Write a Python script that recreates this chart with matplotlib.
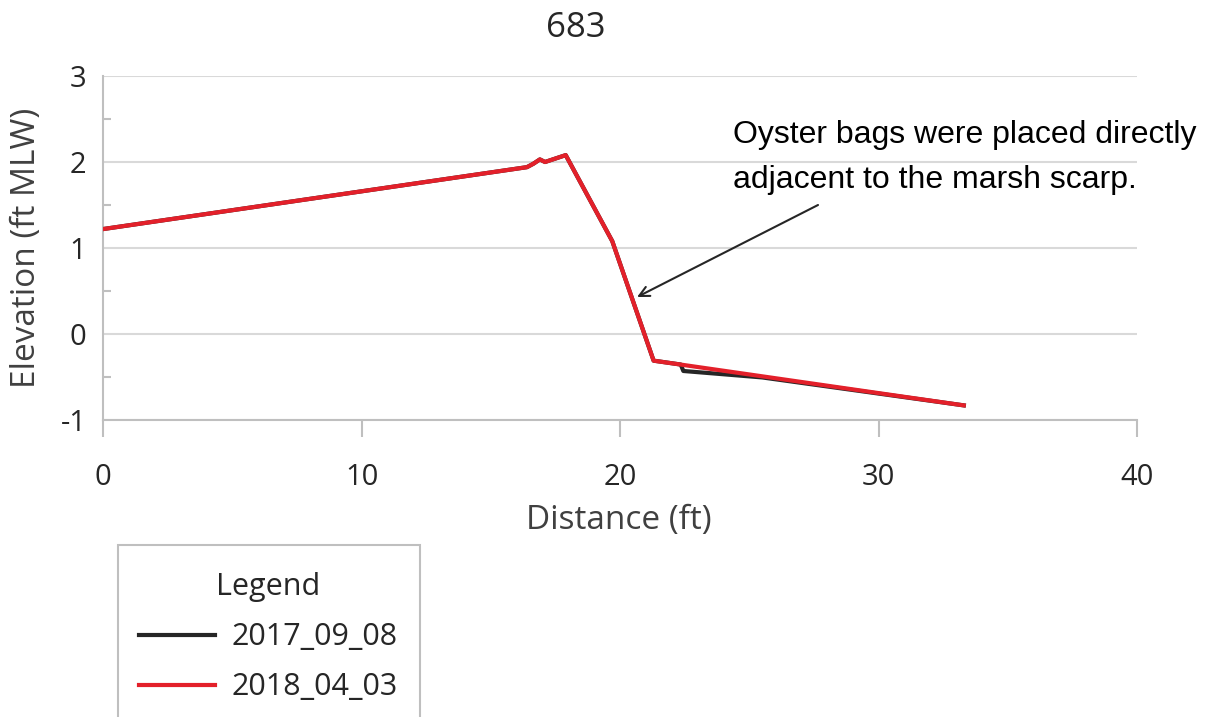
import matplotlib
matplotlib.use("Agg")
import matplotlib.pyplot as plt
from matplotlib.patches import Rectangle
from matplotlib.lines import Line2D

# ---- data ----
title = "683"
dist_2017 = [0, 16.4, 16.65, 16.9, 17.1, 17.9, 19.7, 21.3, 22.35, 22.45, 25.5, 33.3]
elev_2017 = [1.22, 1.94, 1.98, 2.03, 2.00, 2.08, 1.08, -0.31, -0.355, -0.43, -0.505, -0.83]
dist_2018 = [0, 16.4, 16.65, 16.9, 17.1, 17.9, 19.7, 21.3, 33.3]
elev_2018 = [1.22, 1.94, 1.98, 2.03, 2.00, 2.08, 1.08, -0.31, -0.83]
labels = ["2017_09_08", "2018_04_03"]
colors = ["#262626", "#e3202a"]
x_ticks = [0, 10, 20, 30, 40]
y_ticks = [-1, 0, 1, 2, 3]
y_minor = [-0.5, 0.5, 1.5, 2.5]
annot_lines = ["Oyster bags were placed directly", "adjacent to the marsh scarp."]
annot_xy = (20.66, 0.43)
annot_tail = (27.66, 1.50)

FONT = ["Open Sans", "DejaVu Sans"]
W, H = 1212, 717
fig = plt.figure(figsize=(W / 100, H / 100), dpi=100)
ax = fig.add_axes([103 / W, 1 - 420 / H, (1137 - 103) / W, (420 - 76) / H])

ax.plot(dist_2017, elev_2017, color=colors[0], lw=3, zorder=3)
ax.plot(dist_2018, elev_2018, color=colors[1], lw=3, zorder=4)

ax.set_xlim(0, 40)
ax.set_ylim(-1, 3)
ax.set_xticks(x_ticks)
ax.set_yticks(y_ticks)
ax.set_yticks(y_minor, minor=True)
ax.set_xticklabels([str(v) for v in x_ticks], fontfamily=FONT, fontsize=21, color="#262626")
ax.set_yticklabels([str(v) for v in y_ticks], fontfamily=FONT, fontsize=21, color="#262626")

grid_c = "#d9d9d9"
for s in ["top", "right"]:
    ax.spines[s].set_visible(False)
for s in ["left", "bottom"]:
    ax.spines[s].set_color("#bfbfbf")
    ax.spines[s].set_linewidth(1.5)
ax.yaxis.grid(True, which="major", color=grid_c, lw=1.5)
ax.set_axisbelow(True)
ax.tick_params(axis="y", which="major", length=0, pad=12)
ax.tick_params(axis="y", which="minor", direction="in", length=6, color="#bfbfbf", width=1.5)
ax.tick_params(axis="x", which="major", direction="out", length=12, color="#bfbfbf", width=1.5, pad=19)

# axis labels and title, positioned in figure pixels
fig.text(619 / W, 1 - 520 / H, "Distance (ft)", fontfamily=FONT, fontsize=24,
         color="#404040", ha="center", va="center")
fig.text(27 / W, 1 - 248 / H, "Elevation (ft MLW)", fontfamily=FONT, fontsize=24,
         color="#404040", ha="center", va="center", rotation=90)
fig.text(576 / W, 1 - 37 / H, title, fontfamily=FONT, fontsize=25,
         color="#262626", ha="center", va="baseline")

# annotation text + arrow
AFONT = ["Liberation Sans", "DejaVu Sans"]
fig.text(733 / W, 1 - 143 / H, annot_lines[0], fontfamily=AFONT, fontsize=23,
         color="black", ha="left", va="baseline")
fig.text(733 / W, 1 - 188 / H, annot_lines[1], fontfamily=AFONT, fontsize=23,
         color="black", ha="left", va="baseline")
ax.annotate("", xy=annot_xy, xytext=annot_tail, annotation_clip=False,
            arrowprops=dict(arrowstyle="->", color="#262626", lw=1.5, mutation_scale=18,
                            shrinkA=0, shrinkB=0))

# legend box (extends beyond bottom of figure)
rect = Rectangle((118 / W, 1 - 760 / H), (420 - 118) / W, (760 - 545) / H,
                 transform=fig.transFigure, fill=False, edgecolor="#bfbfbf", lw=1.5)
fig.patches.append(rect)
handles = [Line2D([], [], color=c, lw=3) for c in colors]
leg = fig.legend(handles, labels, title="Legend", loc="upper left",
                 bbox_to_anchor=(111 / W, 1 - 545 / H), frameon=False,
                 prop={"family": FONT, "size": 22}, handlelength=2.5,
                 labelspacing=0.65, handletextpad=0.55)
leg.get_title().set_fontfamily(FONT)
leg.get_title().set_fontsize(22)
for t in leg.get_texts():
    t.set_color("#262626")
leg.get_title().set_color("#262626")

fig.savefig("out.png", dpi=100)
